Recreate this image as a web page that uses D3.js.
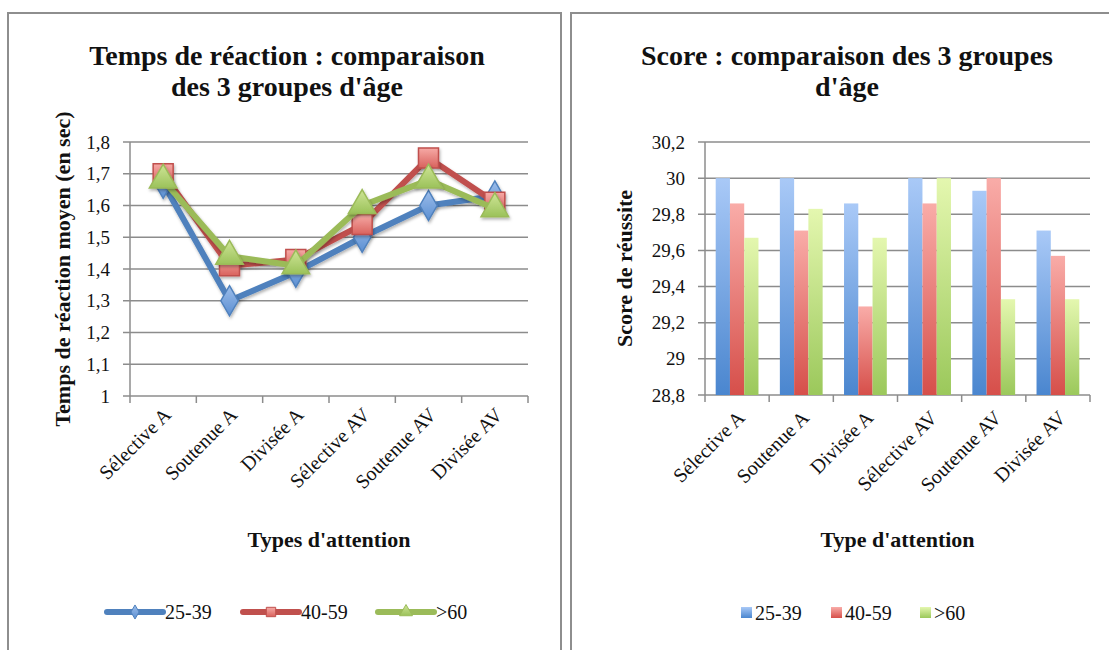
<!DOCTYPE html>
<html>
<head>
<meta charset="utf-8">
<script src="https://cdn.jsdelivr.net/npm/d3@7"></script>
<style>
  body { margin: 0; background: #fff; }
  text { font-family: "Liberation Serif", serif; fill: #111; }
</style>
</head>
<body>
<script>
var categories = ["Sélective A", "Soutenue A", "Divisée A", "Sélective AV", "Soutenue AV", "Divisée AV"];
var groups = ["25-39", "40-59", ">60"];

// temps de reaction (sec)
var rt2539 = [1.67, 1.30, 1.39, 1.50, 1.60, 1.63];
var rt4059 = [1.70, 1.41, 1.43, 1.54, 1.75, 1.61];
var rt60   = [1.68, 1.44, 1.41, 1.60, 1.68, 1.59];
var rtTicks = [1, 1.1, 1.2, 1.3, 1.4, 1.5, 1.6, 1.7, 1.8];

// score de reussite
var sc2539 = [30, 30, 29.86, 30, 29.93, 29.71];
var sc4059 = [29.86, 29.71, 29.29, 29.86, 30, 29.57];
var sc60   = [29.67, 29.83, 29.67, 30, 29.33, 29.33];
var scTicks = [28.8, 29, 29.2, 29.4, 29.6, 29.8, 30, 30.2];

var lineCol = ["#4f81bd", "#c0504d", "#9bbb59"];
var markFill = [["#9cbdea", "#5b8fd2"], ["#f6aaa6", "#d9625d"], ["#cfe597", "#9bc25a"]];
var barFill = [["#a9c9f7", "#4a86cf"], ["#f9aca8", "#d64f4a"], ["#e4f7af", "#9bc85b"]];

var comma = function(d) { return String(d).replace(".", ","); };

var svg = d3.select("body").append("svg")
  .attr("width", 1109).attr("height", 650);

var defs = svg.append("defs");
function grad(id, c) {
  var g = defs.append("linearGradient").attr("id", id)
    .attr("x1", 0).attr("y1", 0).attr("x2", 0).attr("y2", 1);
  g.append("stop").attr("offset", "0%").attr("stop-color", c[0]);
  g.append("stop").attr("offset", "100%").attr("stop-color", c[1]);
}
markFill.forEach(function(c, i) { grad("mk" + i, c); });
barFill.forEach(function(c, i) { grad("bar" + i, c); });
var f = defs.append("filter").attr("id", "sh").attr("x", "-50%").attr("y", "-50%").attr("width", "200%").attr("height", "200%");
f.append("feDropShadow").attr("dx", 1).attr("dy", 2).attr("stdDeviation", 1.5).attr("flood-color", "#000").attr("flood-opacity", 0.3);

// frames
svg.append("rect").attr("x", 8).attr("y", 13).attr("width", 553).attr("height", 700)
  .attr("fill", "none").attr("stroke", "#8e8e8e").attr("stroke-width", 2);
svg.append("rect").attr("x", 571).attr("y", 13).attr("width", 600).attr("height", 700)
  .attr("fill", "none").attr("stroke", "#8e8e8e").attr("stroke-width", 2);

function frame(y, yTicks, x0, x1, titleLines, tcx, yTitle, yTitleX, xTitle, labDy) {
  var g = svg.append("g");
  g.selectAll("line.grid").data(yTicks).enter().append("line")
    .attr("x1", x0 - 7).attr("x2", x1)
    .attr("y1", function(d) { return y(d); }).attr("y2", function(d) { return y(d); })
    .attr("stroke", "#8c8c8c").attr("stroke-width", 1.5);
  g.append("line").attr("x1", x0).attr("x2", x0)
    .attr("y1", y.range()[1]).attr("y2", y.range()[0])
    .attr("stroke", "#8c8c8c").attr("stroke-width", 1.5);
  var ax = g.append("g").attr("transform", "translate(" + x0 + ",0)")
    .call(d3.axisLeft(y).tickValues(yTicks).tickSize(0).tickPadding(20).tickFormat(comma));
  ax.select(".domain").remove();
  ax.attr("font-family", null);
  ax.selectAll("text").attr("font-size", 19).attr("fill", "#111")
    .style("font-family", "'Liberation Serif', serif");

  // x boundary ticks
  var step = (x1 - x0) / categories.length;
  g.selectAll("line.xt").data(d3.range(categories.length + 1)).enter().append("line")
    .attr("x1", function(i) { return x0 + i * step; }).attr("x2", function(i) { return x0 + i * step; })
    .attr("y1", y.range()[0]).attr("y2", y.range()[0] + 7)
    .attr("stroke", "#8c8c8c").attr("stroke-width", 1.5);

  g.selectAll("text.xl").data(categories).enter().append("text")
    .attr("transform", function(d, i) {
      return "translate(" + (x0 + (i + 0.5) * step + 9) + "," + (y.range()[0] + labDy) + ") rotate(-45)";
    })
    .attr("text-anchor", "end").attr("font-size", 20).text(function(d) { return d; });

  // titles
  svg.append("text").attr("x", tcx).attr("y", 65).attr("text-anchor", "middle")
    .attr("font-size", 28).attr("font-weight", "bold").text(titleLines[0]);
  svg.append("text").attr("x", tcx).attr("y", 96).attr("text-anchor", "middle")
    .attr("font-size", 28).attr("font-weight", "bold").text(titleLines[1]);
  svg.append("text").attr("transform", "translate(" + yTitleX + "," + ((y.range()[0] + y.range()[1]) / 2) + ") rotate(-90)")
    .attr("text-anchor", "middle").attr("font-size", 22).attr("font-weight", "bold").text(yTitle);
  svg.append("text").attr("x", (x0 + x1) / 2).attr("y", 547).attr("text-anchor", "middle")
    .attr("font-size", 22).attr("font-weight", "bold").text(xTitle);
}

// ---------- left: lines ----------
var yL = d3.scaleLinear().domain([1, 1.8]).range([396, 142]);
var xL = d3.scalePoint().domain(categories).range([130, 528]).padding(0.5);
frame(yL, rtTicks, 130, 528, ["Temps de réaction : comparaison", "des 3 groupes d'âge"], 287,
  "Temps de réaction moyen (en sec)", 70, "Types d'attention", 20);

var lineData = [rt2539, rt4059, rt60];
var line = d3.line().x(function(d, i) { return xL(categories[i]); }).y(function(d) { return yL(d); });
var symbols = [d3.symbolDiamond, d3.symbolSquare, d3.symbolTriangle];
var symSize = [260, 400, 330];

lineData.forEach(function(vals, s) {
  var g = svg.append("g");
  g.append("path").datum(vals).attr("d", line).attr("fill", "none")
    .attr("stroke", lineCol[s]).attr("stroke-width", 6).attr("stroke-linejoin", "round")
    .attr("filter", "url(#sh)");
  g.selectAll("path.m").data(vals).enter().append("path")
    .attr("d", d3.symbol().type(symbols[s]).size(symSize[s]))
    .attr("transform", function(d, i) { return "translate(" + xL(categories[i]) + "," + yL(d) + ")"; })
    .attr("fill", "url(#mk" + s + ")").attr("stroke", lineCol[s]).attr("stroke-width", 1.5)
    .attr("filter", "url(#sh)");
});

// legend left
var legL = [107, 243, 378];
groups.forEach(function(name, s) {
  var lx = legL[s], ly = 612;
  svg.append("line").attr("x1", lx).attr("x2", lx + 56).attr("y1", ly).attr("y2", ly)
    .attr("stroke", lineCol[s]).attr("stroke-width", 6).attr("stroke-linecap", "round");
  svg.append("path").attr("d", d3.symbol().type(symbols[s]).size(symSize[s] * 0.22))
    .attr("transform", "translate(" + (lx + 28) + "," + ly + ")")
    .attr("fill", "url(#mk" + s + ")").attr("stroke", lineCol[s]).attr("stroke-width", 1);
  svg.append("text").attr("x", lx + 58).attr("y", ly + 7).attr("font-size", 20).text(name);
});

// ---------- right: bars ----------
var yR = d3.scaleLinear().domain([28.8, 30.2]).range([395, 142]);
var xR = d3.scaleBand().domain(categories).range([705, 1090]).paddingInner(1 / 3).paddingOuter(1 / 6);
var xG = d3.scaleBand().domain(groups).range([0, xR.bandwidth()]);
frame(yR, scTicks, 705, 1090, ["Score : comparaison des 3 groupes", "d'âge"], 847,
  "Score de réussite", 632, "Type d'attention", 24);

var barData = [sc2539, sc4059, sc60];
barData.forEach(function(vals, s) {
  svg.append("g").selectAll("rect").data(vals).enter().append("rect")
    .attr("x", function(d, i) { return xR(categories[i]) + xG(groups[s]); })
    .attr("y", function(d) { return yR(d); })
    .attr("width", xG.bandwidth())
    .attr("height", function(d) { return yR(28.8) - yR(d); })
    .attr("fill", "url(#bar" + s + ")");
});

// legend right
var legR = [741, 831, 920];
groups.forEach(function(name, s) {
  svg.append("rect").attr("x", legR[s]).attr("y", 607).attr("width", 11).attr("height", 11)
    .attr("fill", "url(#bar" + s + ")");
  svg.append("text").attr("x", legR[s] + 14).attr("y", 620).attr("font-size", 20).text(name);
});
</script>
</body>
</html>
